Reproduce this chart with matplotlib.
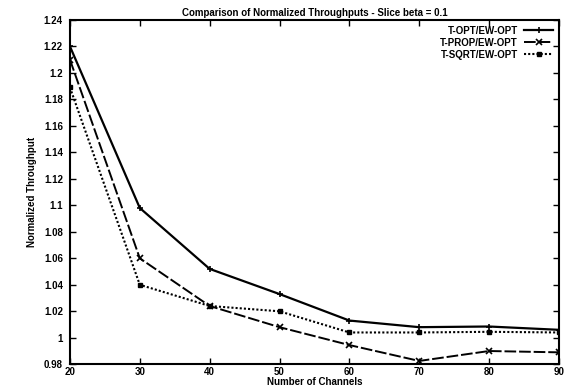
import matplotlib
matplotlib.use("Agg")
import matplotlib.pyplot as plt
from matplotlib.ticker import FuncFormatter

channels = [20, 30, 40, 50, 60, 70, 80, 90]
t_opt = [1.220, 1.098, 1.052, 1.033, 1.013, 1.008, 1.0085, 1.006]
t_prop = [1.210, 1.060, 1.024, 1.008, 0.9945, 0.9825, 0.990, 0.989]
t_sqrt = [1.189, 1.040, 1.024, 1.020, 1.004, 1.004, 1.0045, 1.004]

labels = ["T-OPT/EW-OPT", "T-PROP/EW-OPT", "T-SQRT/EW-OPT"]
title = "Comparison of Normalized Throughputs - Slice beta = 0.1"

plt.rcParams['font.family'] = ['Liberation Sans', 'DejaVu Sans']
fig = plt.figure(figsize=(5.78, 3.90), dpi=100)
ax = fig.add_axes([0.121, 0.066, 0.846, 0.883])

ax.plot(channels, t_opt, color='black', lw=1.6, linestyle='-', marker='+', ms=5, mew=1.2, label=labels[0])
ax.plot(channels, t_prop, color='black', lw=1.4, linestyle=(0, (6, 1.5)), marker='x', ms=4, mew=1.2, label=labels[1])
ax.plot(channels, t_sqrt, color='black', lw=1.5, linestyle=(0, (1, 1)), marker='s', ms=3.5, label=labels[2])

ax.set_xlim(20, 90)
ax.set_ylim(0.98, 1.24)
ax.set_xticks(channels)
yt = [0.98 + 0.02 * i for i in range(14)]
ax.set_yticks(yt)
ax.yaxis.set_major_formatter(FuncFormatter(lambda v, p: ('%.2f' % v).rstrip('0').rstrip('.')))
ax.tick_params(direction='in', top=True, right=True, labelsize=7, length=4, width=1)
ax.tick_params(axis='y', pad=5)
ax.tick_params(axis='x', pad=2)
for lab in ax.get_xticklabels() + ax.get_yticklabels():
    lab.set_fontweight('bold')
for s in ax.spines.values():
    s.set_linewidth(1.5)

ax.set_title(title, fontsize=7, fontweight='bold', pad=3)
ax.set_xlabel("Number of Channels", fontsize=7, fontweight='bold', labelpad=0)
ax.set_ylabel("Normalized Throughput", fontsize=7, fontweight='bold', labelpad=5)

leg = ax.legend(loc='upper right', frameon=False, fontsize=7, handlelength=3,
                markerfirst=False, borderaxespad=0.2, labelspacing=0.2, handletextpad=0.6)
for t in leg.get_texts():
    t.set_fontweight('bold')

fig.savefig("out.png", dpi=100)
